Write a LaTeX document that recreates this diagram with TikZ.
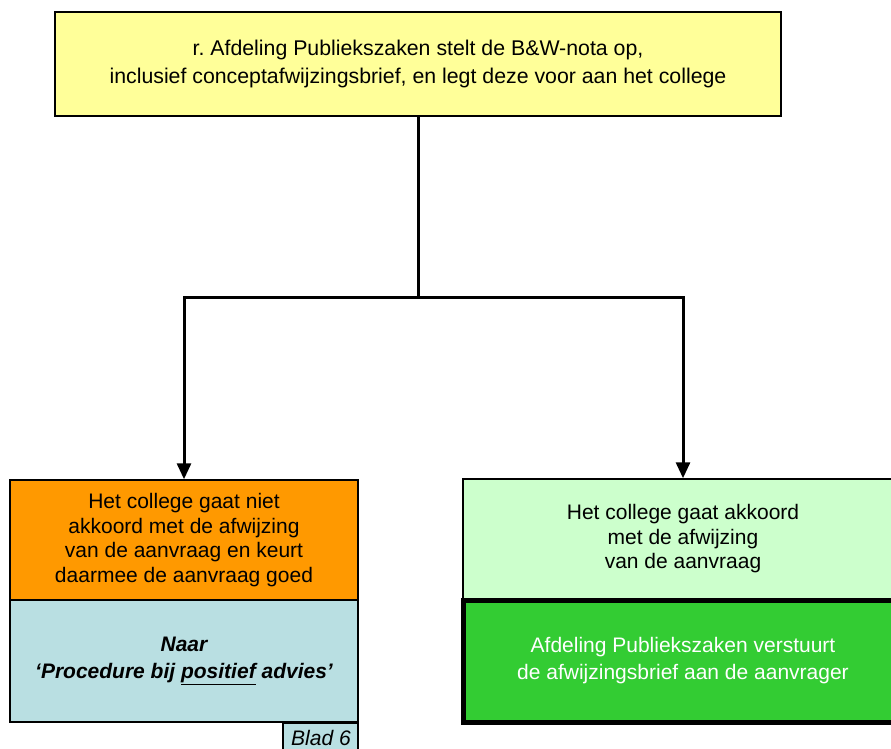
\documentclass[tikz,border=0pt]{standalone}
\usepackage{fontspec}
\setmainfont{Liberation Sans}
\usetikzlibrary{arrows.meta}
\frenchspacing
\definecolor{noteyellow}{HTML}{FFFF99}
\definecolor{rejectorange}{HTML}{FF9900}
\definecolor{linkblue}{HTML}{B9DFE2}
\definecolor{palegreen}{HTML}{CCFFCC}
\definecolor{sendgreen}{HTML}{33CC33}
\tikzset{
  box/.style={draw=black, rectangle, align=center, inner sep=0pt,
    font=\fontsize{21}{24.5}\selectfont},
  wire/.style={draw=black, line width=3pt},
  flow/.style={wire, -{Triangle[width=14pt,length=16pt]}},
}
\begin{document}
\begin{tikzpicture}[x=1pt, y=-1pt]
  \useasboundingbox (0,0) rectangle (891,749);
  \clip (0,0) rectangle (891,749);
  \fill[white] (0,0) rectangle (891,749);

  % proposal to the college
  \node[box, fill=noteyellow, line width=2pt, minimum width=726pt, minimum height=104pt,
        font=\fontsize{21.3}{28}\selectfont] (nota) at (418,64)
    {r. Afdeling Publiekszaken stelt de B\&W-nota op,\\
     inclusief conceptafwijzingsbrief, en legt deze voor aan het college};

  % left branch: not approved
  \node[box, fill=rejectorange, line width=1.5pt, minimum width=348pt, minimum height=120pt] (niet) at (184,540)
    {Het college gaat niet\\akkoord met de afwijzing\\van de aanvraag en keurt\\daarmee de aanvraag goed};
  \node[box, fill=linkblue, line width=1.5pt, minimum width=348pt, minimum height=122pt,
        font=\fontsize{21}{27}\selectfont\bfseries\itshape] (naar) at (184,661)
    {Naar\\‘Procedure bij \underline{positief} advies’};
  \node[box, fill=linkblue, line width=1.5pt, minimum width=75pt, minimum height=40pt,
        anchor=north east] (blad) at (naar.south east) {};
  \node[font=\fontsize{21}{24}\selectfont\itshape, anchor=base] (bladtxt) at (321,745) {Blad 6};

  % right branch: approved
  \node[box, fill=palegreen, line width=1.5pt, minimum width=440pt, minimum height=120pt] (akkoord) at (683,539)
    {Het college gaat akkoord\\met de afwijzing\\van de aanvraag};
  \node[box, fill=sendgreen, line width=5pt, minimum width=440pt, minimum height=122pt,
        font=\fontsize{21}{27}\selectfont\color{white}] (verstuurt) at (683,661)
    {Afdeling Publiekszaken verstuurt\\de afwijzingsbrief aan de aanvrager};

  % connectors
  \coordinate (split) at (418,297);
  \draw[wire] (nota.south) -- (split);
  \draw[flow] (split) -| (niet.north);
  \draw[flow] (split) -| (akkoord.north);
\end{tikzpicture}
\end{document}
